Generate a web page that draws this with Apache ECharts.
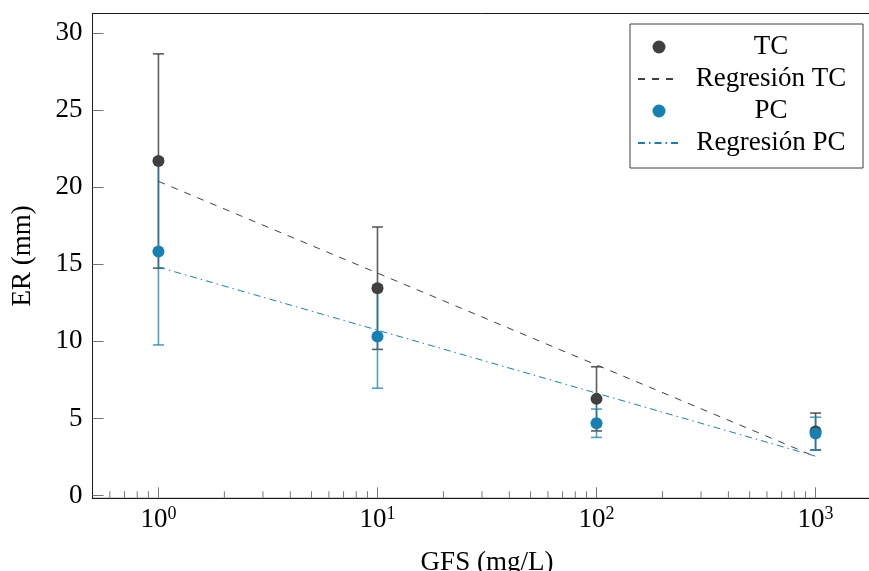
<!DOCTYPE html>
<html><head><meta charset="utf-8">
<script src="https://cdn.jsdelivr.net/npm/echarts@6/dist/echarts.min.js"></script>
<style>html,body{margin:0;padding:0;background:#fff}#c{width:869px;height:571px}</style>
</head><body><div id="c"></div>
<script>
// ---- data ----
const xValues = [1, 10, 100, 1000];
const tcMean = [21.7, 13.45, 6.27, 4.15];
const tcErr  = [6.95, 3.97, 2.08, 1.2];
const pcMean = [15.83, 10.31, 4.69, 4.02];
const pcErr  = [6.06, 3.35, 0.92, 1.06];
const regTC  = [20.38, 14.43, 8.47, 2.52];
const regPC  = [14.82, 10.73, 6.64, 2.55];
const xTickValues = [1, 10, 100, 1000];
const yTickValues = [0, 5, 10, 15, 20, 25, 30];
const xMinorTicks = [0.6, 0.7, 0.8, 0.9, 2, 3, 4, 5, 6, 7, 8, 9, 20, 30, 40, 50, 60, 70, 80, 90, 200, 300, 400, 500, 600, 700, 800, 900];
const legendNames = ['TC', 'Regresión TC', 'PC', 'Regresión PC'];

const FONT = 'Liberation Serif';
const TC_COLOR = '#404040';
const PC_COLOR = '#1680b2';

function errorBars(name, mean, err, color, opacity) {
  return {
    type: 'custom', name: name, silent: true, z: 2,
    data: xValues.map((x, i) => [x, mean[i] - err[i], mean[i] + err[i]]),
    encode: { x: 0, y: [1, 2] },
    renderItem: (params, api) => {
      const x = api.value(0);
      const lo = api.coord([x, api.value(1)]);
      const hi = api.coord([x, api.value(2)]);
      const hw = 5.5;
      const style = { stroke: color, lineWidth: 1.6, opacity: opacity };
      return { type: 'group', children: [
        { type: 'line', shape: { x1: lo[0], y1: lo[1], x2: hi[0], y2: hi[1] }, style: style },
        { type: 'line', shape: { x1: lo[0] - hw, y1: lo[1], x2: lo[0] + hw, y2: lo[1] }, style: style },
        { type: 'line', shape: { x1: hi[0] - hw, y1: hi[1], x2: hi[0] + hw, y2: hi[1] }, style: style }
      ]};
    }
  };
}

const chart = echarts.init(document.getElementById('c'), null, { renderer: 'canvas' });
chart.setOption({
  animation: false,
  backgroundColor: '#fff',
  grid: { left: 92.5, right: -12.5, top: 13.5, bottom: 72.7, containLabel: false, outerBoundsMode: 'none',
          show: true, borderColor: '#1a1a1a', borderWidth: 1, backgroundColor: 'transparent' },
  xAxis: {
    type: 'log', logBase: 10, min: 0.5, max: 2000,
    name: 'GFS (mg/L)', nameLocation: 'middle', nameGap: 51,
    nameTextStyle: { fontFamily: FONT, fontSize: 27, color: '#000' },
    axisLine: { show: true, onZero: false, lineStyle: { color: '#1a1a1a', width: 1 } },
    axisTick: { show: true, inside: true, length: 11, lineStyle: { color: '#777', width: 1 } },
    splitLine: { show: false },
    axisLabel: {
      show: true, margin: 7, showMinLabel: false, showMaxLabel: false,
      formatter: v => {
        const e = Math.round(Math.log10(v));
        if (xTickValues.indexOf(Math.pow(10, e)) < 0) return '';
        return '{b|10}{s|' + e + '}';
      },
      rich: {
        b: { fontFamily: FONT, fontSize: 27, lineHeight: 30, color: '#000' },
        s: { fontFamily: FONT, fontSize: 18, lineHeight: 18, verticalAlign: 'top', color: '#000' }
      }
    }
  },
  yAxis: {
    type: 'value', min: -0.18, max: 31.27, splitNumber: 6,
    name: 'ER (mm)', nameLocation: 'middle', nameGap: 56, nameRotate: 90,
    nameTextStyle: { fontFamily: FONT, fontSize: 27, color: '#000' },
    axisLine: { show: true, onZero: false, lineStyle: { color: '#1a1a1a', width: 1 } },
    axisTick: { show: true, inside: true, length: 11, lineStyle: { color: '#777', width: 1 } },
    splitLine: { show: false },
    axisLabel: {
      margin: 10, showMinLabel: false, showMaxLabel: false,
      fontFamily: FONT, fontSize: 27, color: '#000',
      formatter: v => (yTickValues.indexOf(Math.round(v * 100) / 100) >= 0 ? String(Math.round(v)) : '')
    }
  },
  legend: {
    data: legendNames,
    orient: 'vertical', right: 6, top: 24,
    padding: [8, 6, 10, 7],
    itemWidth: 42, itemHeight: 13, itemGap: 2,
    borderColor: '#3c3c3c', borderWidth: 1, backgroundColor: '#fff',
    formatter: n => '{c|' + n + '}',
    textStyle: {
      fontFamily: FONT, fontSize: 27, color: '#000', lineHeight: 30,
      rich: { c: { width: 172, align: 'center', fontFamily: FONT, fontSize: 27, lineHeight: 30, color: '#000' } }
    }
  },
  series: [
    {
      type: 'custom', name: 'minorTicks', silent: true, z: 1, clip: false,
      data: xMinorTicks.map(v => [v, 0]),
      encode: { x: 0, y: 1 },
      renderItem: (params, api) => {
        const p = api.coord([api.value(0), 0]);
        const bottom = params.coordSys.y + params.coordSys.height;
        return { type: 'line', shape: { x1: p[0], y1: bottom, x2: p[0], y2: bottom - 7 }, style: { stroke: '#777', lineWidth: 1 } };
      }
    },
    errorBars('TC err', tcMean, tcErr, TC_COLOR, 0.85),
    errorBars('PC err', pcMean, pcErr, PC_COLOR, 0.75),
    {
      type: 'line', name: 'Regresión TC', z: 2,
      data: xValues.map((x, i) => [x, regTC[i]]),
      showSymbol: false, symbol: 'none',
      lineStyle: { color: TC_COLOR, width: 1, type: [7, 7] },
      itemStyle: { color: 'rgba(0,0,0,0)', opacity: 0 }
    },
    {
      type: 'line', name: 'Regresión PC', z: 2,
      data: xValues.map((x, i) => [x, regPC[i]]),
      showSymbol: false, symbol: 'none',
      lineStyle: { color: PC_COLOR, width: 1, type: [7, 4, 1.5, 4] },
      itemStyle: { color: 'rgba(0,0,0,0)', opacity: 0 }
    },
    {
      type: 'scatter', name: 'TC', z: 3,
      data: xValues.map((x, i) => [x, tcMean[i]]),
      symbol: 'circle', symbolSize: 12,
      itemStyle: { color: TC_COLOR, opacity: 1 }
    },
    {
      type: 'scatter', name: 'PC', z: 3,
      data: xValues.map((x, i) => [x, pcMean[i]]),
      symbol: 'circle', symbolSize: 12,
      itemStyle: { color: PC_COLOR, opacity: 1 }
    }
  ]
});
</script>
</body></html>
